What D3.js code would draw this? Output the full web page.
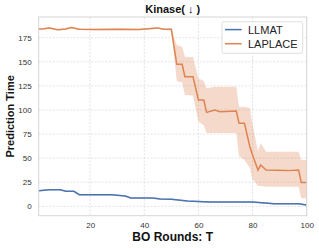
<!DOCTYPE html>
<html>
<head>
<meta charset="utf-8">
<script src="https://cdn.jsdelivr.net/npm/d3@7"></script>
<style>
  body { margin: 0; background: #fff; }
  text { font-family: 'Liberation Sans', Arial, sans-serif; }
</style>
</head>
<body>
<div id="chart"></div>
<script>
// chart data
const chartTitle = 'Kinase( \u2193 )'
const xLabel = 'BO Rounds: T'
const yLabel = 'Prediction Time'
const seriesNames = ['LLMAT', 'LAPLACE']
const xTicks = [20, 40, 60, 80, 100]
const yTicks = [0, 25, 50, 75, 100, 125, 150, 175]

const llmatRounds = [1, 5, 9, 11, 14, 16, 28, 33, 35, 43, 46, 50, 56, 64, 80, 88, 97, 100]
const llmatMean = [16.1, 17.2, 17.2, 15.5, 15.5, 12, 12, 10.6, 8.5, 8.5, 7.5, 7.3, 5.4, 4.4, 4.4, 2.6, 2.6, 1.3]
const llmatLower = [15.4, 16.5, 16.5, 14.8, 14.8, 11.3, 11.3, 9.9, 7.8, 7.8, 6.8, 6.6, 4.7, 3.7, 3.7, 1.9, 1.9, 0.6]
const llmatUpper = [16.8, 17.9, 17.9, 16.2, 16.2, 12.7, 12.7, 11.3, 9.2, 9.2, 8.2, 8.0, 6.1, 5.1, 5.1, 3.3, 3.3, 2.0]

const laplaceRounds = [1, 3, 5, 8, 11, 13, 16, 22, 30, 38, 45, 47, 50, 52, 54, 55, 58, 60, 62, 63, 66, 68, 74, 75, 77, 79, 80, 82, 83, 85, 93, 97, 98, 100]
const laplaceMean = [184, 184.3, 185, 183.3, 184, 185.6, 183.8, 183.6, 183.8, 183.5, 185.2, 183.7, 183.7, 147.4, 147.4, 134.5, 134.5, 110.3, 110.3, 97.5, 99.9, 98.2, 98.9, 86.1, 86.1, 61.8, 53.2, 37.6, 42.8, 37.6, 37, 37.6, 24.8, 24.8]
const laplaceLower = [183.2, 183.5, 184.2, 182.5, 183.2, 184.8, 183, 182.8, 183, 182.7, 184.4, 182.9, 182.8, 130, 128.5, 115.5, 115, 88, 84, 76, 76, 76, 76, 52, 48, 40, 28, 21, 21, 20.3, 20.3, 20.3, 8.2, 8.2]
const laplaceUpper = [184.8, 185.1, 185.8, 184.1, 184.8, 186.4, 184.6, 184.4, 184.6, 184.3, 186, 184.5, 184.6, 167.4, 165.7, 155.3, 155, 132.8, 130, 122.4, 124, 124, 124, 103.3, 103, 102, 85, 57, 65.3, 56.7, 56.7, 56.7, 48, 48]

const colors = ['#4C72B0', '#DD8452']
const width = 319
const height = 248
const margin = {'top': 17, 'left': 38.7, 'right': 12.3, 'bottom': 32.3}

let toPoints = function (rounds, mean, lower, upper) {
  return rounds.map((t, i) => ({'t': t, 'y': mean[i], 'lo': lower[i], 'hi': upper[i]}))
}
let series = [
  toPoints(llmatRounds, llmatMean, llmatLower, llmatUpper),
  toPoints(laplaceRounds, laplaceMean, laplaceLower, laplaceUpper)
]

let svg = d3.select('#chart')
  .append('svg')
  .attr('width', width)
  .attr('height', height)

let innerW = width - margin.left - margin.right
let innerH = height - margin.top - margin.bottom

let xScale = d3.scaleLinear()
  .domain([1, 100])
  .range([0, innerW])
let yScale = d3.scaleLinear()
  .domain([-9.8, 196.5])
  .range([innerH, 0])

let g = svg.append('g')
  .attr('transform', `translate(${margin.left},${margin.top})`)

// grid
g.append('g')
  .selectAll('line')
  .data(xTicks)
  .enter()
  .append('line')
  .attr('x1', d => xScale(d))
  .attr('x2', d => xScale(d))
  .attr('y1', 0)
  .attr('y2', innerH)
  .style('stroke', '#dcdcdc')
  .style('stroke-width', 0.8)
  .style('stroke-dasharray', '2,1.5')
g.append('g')
  .selectAll('line')
  .data(yTicks)
  .enter()
  .append('line')
  .attr('x1', 0)
  .attr('x2', innerW)
  .attr('y1', d => yScale(d))
  .attr('y2', d => yScale(d))
  .style('stroke', '#dcdcdc')
  .style('stroke-width', 0.8)
  .style('stroke-dasharray', '2,1.5')

// axes without tick marks
let xAxis = g.append('g')
  .attr('transform', `translate(0,${innerH})`)
  .call(d3.axisBottom(xScale).tickValues(xTicks).tickSize(0).tickPadding(7))
let yAxis = g.append('g')
  .call(d3.axisLeft(yScale).tickValues(yTicks).tickSize(0).tickPadding(7))
;[xAxis, yAxis].forEach(ax => {
  ax.select('.domain').remove()
  ax.selectAll('text')
    .style('font-size', '8px')
    .style('fill', '#333')
    .style('font-family', "'Liberation Sans', Arial, sans-serif")
})

// bands and lines
let area = d3.area()
  .x(d => xScale(d.t))
  .y0(d => yScale(d.lo))
  .y1(d => yScale(d.hi))
let line = d3.line()
  .x(d => xScale(d.t))
  .y(d => yScale(d.y))

series.forEach((data, i) => {
  g.append('path')
    .datum(data)
    .attr('d', area)
    .style('fill', colors[i])
    .style('opacity', 0.3)
  g.append('path')
    .datum(data)
    .attr('d', line)
    .style('fill', 'none')
    .style('stroke', colors[i])
    .style('stroke-width', 1.5)
})

// frame
g.append('rect')
  .attr('width', innerW)
  .attr('height', innerH)
  .style('fill', 'none')
  .style('stroke', '#d6d6d6')
  .style('stroke-width', 1)

// legend
let legend = svg.append('g')
  .attr('transform', 'translate(222,21.7)')
legend.append('rect')
  .attr('width', 80.7)
  .attr('height', 31.6)
  .attr('rx', 2)
  .style('fill', '#fff')
  .style('fill-opacity', 0.85)
  .style('stroke', '#d6d6d6')
  .style('stroke-width', 0.8)
seriesNames.forEach((name, i) => {
  let yy = 7.9 + i * 14.1
  legend.append('line')
    .attr('x1', 3)
    .attr('x2', 19.7)
    .attr('y1', yy)
    .attr('y2', yy)
    .style('stroke', colors[i])
    .style('stroke-width', 1.5)
  legend.append('text')
    .attr('x', 26)
    .attr('y', yy + 4)
    .style('font-size', '11px')
    .style('fill', '#222')
    .text(name)
})

// titles
svg.append('text')
  .attr('x', margin.left + innerW / 2)
  .attr('y', 13.3)
  .attr('text-anchor', 'middle')
  .style('font-size', '11px')
  .style('font-weight', 'bold')
  .style('fill', '#111')
  .text(chartTitle)
svg.append('text')
  .attr('x', margin.left + innerW / 2)
  .attr('y', 240.7)
  .attr('text-anchor', 'middle')
  .style('font-size', '12px')
  .style('font-weight', 'bold')
  .style('fill', '#111')
  .text(xLabel)
svg.append('text')
  .attr('transform', `translate(13.5,${margin.top + innerH / 2}) rotate(-90)`)
  .attr('text-anchor', 'middle')
  .style('font-size', '11px')
  .style('font-weight', 'bold')
  .style('fill', '#111')
  .text(yLabel)
</script>
</body>
</html>
